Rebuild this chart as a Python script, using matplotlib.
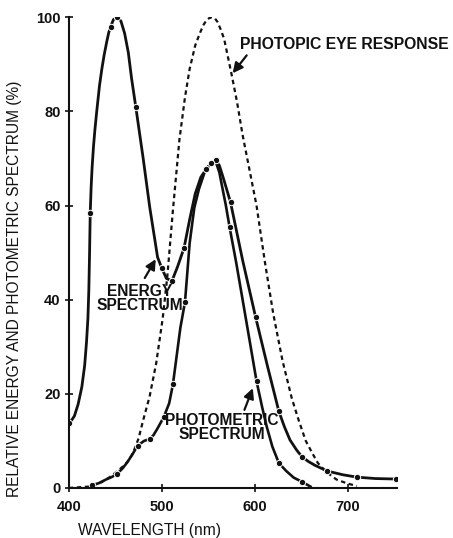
import matplotlib.pyplot as plt

# values
# energy spectrum (solid line)
energy_nm = [400, 402, 406, 410, 414, 417, 419, 420.5, 421.5, 422.3, 423, 424, 425, 426.5,
             428, 430, 433, 435.5, 438, 441, 443, 445, 448, 452, 456, 460, 464, 467.5,
             472, 476, 480, 487, 495.5, 500, 505, 511, 517, 524, 530, 536, 542, 548, 553,
             558, 562, 566, 574, 587, 601, 614, 626, 632, 638, 645, 651, 658, 665, 678,
             695, 710, 730, 752]
energy_val = [13.8, 14.1, 15.3, 17.8, 21.5, 26, 31, 36, 42, 50, 58.4, 64, 68, 72.5,
              76, 80, 85.5, 89, 92, 95, 96.8, 98, 99.5, 100, 99.2, 96.6, 92.5, 87,
              81, 75.5, 70, 59.7, 49, 46.7, 44.5, 44, 47, 51, 57, 62.5, 66, 67.8, 69,
              69.6, 68.5, 66, 60.7, 48.4, 36.3, 25.7, 16.3, 13, 10.2, 8.1, 6.6, 5.6, 4.8, 3.6,
              2.8, 2.3, 2.0, 1.9]
energy_dots_nm = [400, 423, 445, 452, 472, 500, 511, 524, 548, 558, 574, 601, 626, 651, 678, 710, 752]
energy_dots = [13.8, 58.4, 98, 100, 81, 46.7, 44, 51, 67.8, 69.6, 60.7, 36.3, 16.3, 6.6, 3.6, 2.3, 1.9]

# photometric spectrum (solid line)
photo_nm = [425, 432, 440, 446, 452, 458, 463, 468, 474, 481, 487, 491, 495, 502, 508,
            512, 516, 520, 525, 530, 535, 540, 546, 553, 558, 562, 565, 569, 573, 580,
            587, 595, 602, 608, 613, 619, 626, 634, 642, 651, 660]
photo_val = [0.6, 1.0, 1.8, 2.3, 3, 4.2, 5.5, 7, 9, 10, 10.4, 11.2, 12.5, 15, 18,
             22, 28, 34, 39.5, 52, 59.5, 63.5, 67, 69, 69.4, 67, 64, 60, 55.4, 48,
             40, 30.8, 22.7, 17.2, 13, 8.8, 5.3, 3.6, 2.2, 1.3, 0.3]
photo_dots_nm = [425, 452, 474, 487, 502, 512, 525, 553, 573, 602, 626, 651]
photo_dots = [0.6, 3, 9, 10.4, 15, 22, 39.5, 69, 55.4, 22.7, 5.3, 1.3]

# photopic eye response (dashed line)
eye_nm = [400, 422, 435, 444, 455, 463, 469, 475, 480, 487, 494, 501, 506, 512, 519,
          525, 530, 536, 541, 545, 548, 551, 554, 557, 560, 563, 567, 575, 581, 587,
          595, 602, 611, 620, 630, 640, 648, 655, 662, 668, 677, 688, 699, 710]
eye_val = [0, 0.3, 1.2, 2.3, 4, 5.5, 7.4, 10.5, 14.4, 19.5, 26.5, 36, 45, 59, 74,
           83, 89, 94, 96.6, 98.4, 99.3, 99.8, 100, 99.8, 99, 97.6, 95.5, 88, 82, 75,
           67, 60, 48, 37, 27, 19, 14, 10, 7.4, 5.3, 3.4, 1.8, 1.0, 0.4]

xticks = [400, 500, 600, 700]
yticks = [0, 20, 40, 60, 80, 100]

fnt = ['Liberation Sans', 'DejaVu Sans']
ink = '#111111'

fig = plt.figure(figsize=(4.53, 5.38), dpi=100)
ax = fig.add_axes([0.152, 0.093, 0.724, 0.875])

ax.plot(eye_nm, eye_val, color=ink, lw=1.6, linestyle=(0, (2, 1.6)))
ax.plot(energy_nm, energy_val, color=ink, lw=2.0)
ax.plot(photo_nm, photo_val, color=ink, lw=1.9)
ax.plot(energy_dots_nm, energy_dots, 'o', color=ink, ms=4.6, mec='white', mew=0.7)
ax.plot(photo_dots_nm, photo_dots, 'o', color=ink, ms=4.6, mec='white', mew=0.7)

ax.set_xlim(400, 753)
ax.set_ylim(0, 100)
ax.spines['top'].set_visible(False)
ax.spines['right'].set_visible(False)
ax.spines['left'].set_linewidth(1.5)
ax.spines['bottom'].set_linewidth(1.5)
ax.spines['left'].set_color(ink)
ax.spines['bottom'].set_color(ink)
ax.set_xticks(xticks)
ax.set_yticks(yticks)
ax.tick_params(direction='inout', length=6, width=1.2, color=ink, labelsize=10.5)
ax.tick_params(axis='x', pad=6)
ax.tick_params(axis='y', pad=3)
for lab in ax.get_xticklabels() + ax.get_yticklabels():
    lab.set_family(fnt)
    lab.set_fontweight('bold')
    lab.set_color(ink)

fig.text(15 / 453, 1 - 289 / 538, 'RELATIVE ENERGY AND PHOTOMETRIC SPECTRUM (%)',
         rotation=90, ha='center', va='center', fontsize=11.2, family=fnt, color=ink)
fig.text(150 / 453, 1 - 530 / 538, 'WAVELENGTH (nm)', ha='center', va='center',
         fontsize=11.2, family=fnt, color=ink)

arr = dict(arrowstyle='-|>,head_length=0.6,head_width=0.3', color=ink, lw=1.6,
           shrinkA=0, shrinkB=0)
ax.annotate('', xy=(576.3, 88.1), xytext=(591.4, 91.9), arrowprops=arr)
ax.text(583.9, 94.3, 'PHOTOPIC EYE RESPONSE', ha='left', va='center', fontsize=11.3,
        fontweight='bold', family=fnt, color=ink)

ax.annotate('', xy=(493.5, 48.6), xytext=(481.7, 44.6), arrowprops=arr)
ax.text(476, 40.2, 'ENERGY\nSPECTRUM', ha='center', va='center', fontsize=11.2,
        fontweight='bold', family=fnt, color=ink, linespacing=0.95)

ax.annotate('', xy=(598, 21.2), xytext=(589, 16.6), arrowprops=arr)
ax.text(564.5, 12.8, 'PHOTOMETRIC\nSPECTRUM', ha='center', va='center', fontsize=11.2,
        fontweight='bold', family=fnt, color=ink, linespacing=0.95)

fig.savefig('out.png', dpi=100)
